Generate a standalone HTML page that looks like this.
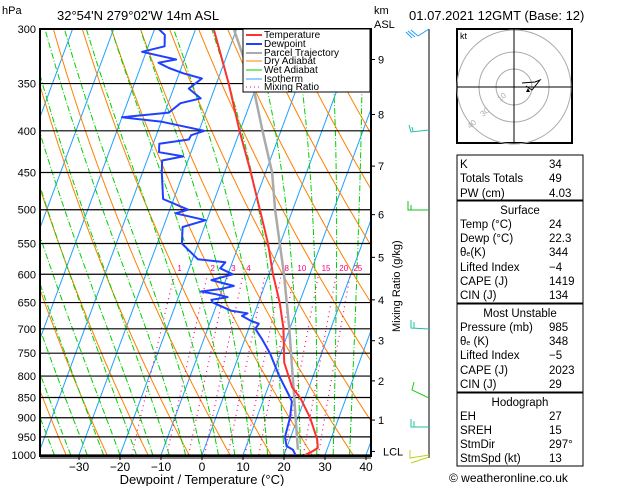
<!DOCTYPE html>
<html><head><meta charset="utf-8"><style>
html,body{margin:0;padding:0;background:#fff;width:629px;height:486px;overflow:hidden}
svg{display:block;font-family:"Liberation Sans",sans-serif}
</style></head><body>
<svg id="c" width="629" height="486" xmlns="http://www.w3.org/2000/svg">
<defs><clipPath id="pc"><rect x="40" y="29" width="331" height="427"/></clipPath></defs>
<g id="bg" clip-path="url(#pc)"></g>
<g id="data" clip-path="url(#pc)"></g>
<g id="axes"></g>
</svg>
<script>
// ---- data ----
const tempP=[1000,990,980,957,900,852,826,770,700,650,600,550,500,450,400,350,300];
const tempT=[25.1,26.6,27.6,26.7,23.0,18.9,15.9,11.7,8.5,5.2,1.0,-3.0,-8.0,-13.6,-20.1,-27,-35.6];
const dewP=[1000,985,975,950,900,860,850,800,750,720,700,690,685,675,670,665,650,645,640,635,630,625,620,610,600,590,580,575,550,525,515,505,500,485,450,435,430,425,415,410,405,400,390,385,380,370,365,355,345,340,335,330,327,320,315,305,300];
const dewT=[22.8,21.7,19.8,18.6,18.1,17.1,16.3,11.7,7.4,4.1,1.6,2,0,-2.8,-1.7,-6,-11.1,-11.7,-8,-11,-15,-10,-7.5,-13.5,-8.8,-12.4,-11.7,-18.7,-24,-25.3,-20.3,-28.3,-25.5,-32.6,-35.3,-36.3,-31.5,-37.8,-38.5,-31.7,-31.5,-28.7,-39.8,-50,-39,-37,-32.5,-36.3,-34,-39,-43,-46,-42,-51,-46,-47,-49];
const parcelP=[985,850,700,600,500,450,400,350,300];
const parcelT=[22.9,17.3,9.9,3.7,-4.3,-8.4,-14.5,-21.2,-30.7];
const pLevels=[300,350,400,450,500,550,600,650,700,750,800,850,900,950,1000];
const tTicks=[-30,-20,-10,0,10,20,30,40];
const kmLabels=["9","8","7","6","5","4","3","2","1","LCL"];
const kmP=[327,382,442,507,572,645,724,811,906,990];
const mixW=[1,2,3,4,6,8,10,15,20,25];
const mixLabels=["1","2","3","4","","8","10","15","20","25"];
// ---- axis functions ----
const X0=202,DX=4.1,SK=0.37,YB=455,YT=29;
function yP(p){return YT+(YB-YT)*Math.log(p/300)/Math.log(1000/300);}
function xT(t,p){return X0+t*DX+SK*(YB-yP(p));}
const NS="http://www.w3.org/2000/svg";
function mk(tag,attrs,parent){const e=document.createElementNS(NS,tag);for(const k in attrs)e.setAttribute(k,attrs[k]);parent.appendChild(e);return e;}
const bg=document.getElementById('bg'),dg=document.getElementById('data'),ax=document.getElementById('axes'),svg=document.getElementById('c');
function pl(pts){return pts.map(q=>q[0].toFixed(1)+','+q[1].toFixed(1)).join(' ');}
// isotherms
for(let t=-120;t<=40;t+=10){
 const e=mk('line',{x1:xT(t,1000),y1:yP(1000),x2:xT(t,300),y2:yP(300),stroke:'#1ea0ff','stroke-width':1},bg);
 
 
}
// dry adiabats
for(let th=230;th<=470;th+=10){
 const pts=[];for(let p=1000;p>=300;p-=10){pts.push([xT(th*Math.pow(p/1000,0.286)-273.15,p),yP(p)]);}
 const e=mk('polyline',{points:pl(pts),fill:'none',stroke:'#ff8000','stroke-width':1},bg);
 
 
}
// wet adiabats
function es(t){return 6.112*Math.exp(17.67*t/(t+243.5));}
function moistLapse(t,p){const T=t+273.15,e=es(t),r=0.622*e/(p-e),L=2.5e6,Rd=287,cp=1005;
 const num=(Rd*T+L*r)/(cp+L*L*r*0.622/(Rd*T*T));return num/p;}
for(let t0=-40;t0<=36;t0+=4){
 const pts=[];let t=t0;for(let p=1000;p>=300;p-=5){pts.push([xT(t,p),yP(p)]);t-=moistLapse(t,p)*5;}
 const e=mk('polyline',{points:pl(pts),fill:'none',stroke:'#00d000','stroke-width':1,'stroke-dasharray':'6,2,1,2'},bg);
 
 
}
// mixing ratio
function tdW(w,p){const e=w*p/(622+w),l=Math.log(e/6.112);return 243.5*l/(17.67-l);}
mixW.forEach((w,i)=>{
 const pts=[];for(let p=1000;p>=600;p-=10)pts.push([xT(tdW(w,p),p),yP(p)]);
 const e=mk('polyline',{points:pl(pts),fill:'none',stroke:'#ff0080','stroke-width':1.2,'stroke-dasharray':'1,4'},bg);
 
 
 const t=mk('text',{x:xT(tdW(w,600),600)+3,y:271,'font-size':8,fill:'#ff0080'},ax);t.textContent=mixLabels[i];
 
 
});
// isobars
pLevels.forEach(p=>{
 const e=mk('line',{x1:40,x2:371,y1:yP(p),y2:yP(p),stroke:'#000','stroke-width':1.2},bg);
 
 
 const t=mk('text',{x:36,y:yP(p)+4,'font-size':11,'text-anchor':'end',fill:'#000'},ax);t.textContent=p;
 
 
});
// profiles
function prof(P,T,col,w,name){const pts=P.map((p,i)=>[xT(T[i],p),yP(p)]);
 const e=mk('polyline',{points:pl(pts),fill:'none',stroke:col,'stroke-width':w,'stroke-linejoin':'round'},dg);
 
 }
prof(parcelP,parcelT,'#aaaaaa',2.5,'parcel-trajectory');
prof(dewP,dewT,'#2040ff',2,'dewpoint-line');
prof(tempP,tempT,'#ff3030',2,'temperature-line');
// frame
const fr=mk('rect',{x:40,y:29,width:331,height:427,fill:'none',stroke:'#000','stroke-width':2},ax);


mk('line',{x1:40,x2:371,y1:458,y2:458,stroke:'#000','stroke-width':1},ax);
tTicks.forEach(t=>{const x=X0+t*DX;
 mk('line',{x1:x,x2:x,y1:456,y2:460,stroke:'#000'},ax);
 const e=mk('text',{x:x,y:471,'font-size':12,'text-anchor':'middle'},ax);e.textContent=(t<0?'\u2212':'')+Math.abs(t);
 
 });
kmP.forEach((p,i)=>{const y=yP(p);
 mk('line',{x1:371,x2:375,y1:y,y2:y,stroke:'#000'},ax);
 const e=mk('text',{x:i==9?383:378,y:y+4,'font-size':11},ax);e.textContent=kmLabels[i];
 
 });
</script>
<svg style="position:absolute;left:0;top:0" width="629" height="486" xmlns="http://www.w3.org/2000/svg" font-family="Liberation Sans, sans-serif">
<text x="2" y="14" font-size="11">hPa</text>
<text x="57" y="20" font-size="13">32°54'N  279°02'W  14m  ASL</text>
<text x="374" y="14" font-size="11">km</text>
<text x="374" y="28" font-size="11">ASL</text>
<text x="409" y="20" font-size="13">01.07.2021  12GMT  (Base: 12)</text>
<text x="202" y="484" font-size="13" text-anchor="middle">Dewpoint / Temperature (°C)</text>
<text transform="translate(400,332) rotate(-90)" font-size="11">Mixing Ratio (g/kg)</text>
<g font-size="10">
<rect x="243" y="29" width="127" height="63" fill="#fff" stroke="#000"/>
<line x1="246" x2="262" y1="35" y2="35" stroke="#ff3030" stroke-width="2"/><text x="264" y="38">Temperature</text>
<line x1="246" x2="262" y1="44" y2="44" stroke="#2040ff" stroke-width="2"/><text x="264" y="47">Dewpoint</text>
<line x1="246" x2="262" y1="53" y2="53" stroke="#aaa" stroke-width="2"/><text x="264" y="56">Parcel Trajectory</text>
<line x1="246" x2="262" y1="61" y2="61" stroke="#ff8000"/><text x="264" y="64">Dry Adiabat</text>
<line x1="246" x2="262" y1="70" y2="70" stroke="#00d000"/><text x="264" y="73">Wet Adiabat</text>
<line x1="246" x2="262" y1="79" y2="79" stroke="#1ea0ff"/><text x="264" y="82">Isotherm</text>
<line x1="246" x2="262" y1="87" y2="87" stroke="#ff0080" stroke-dasharray="1,3"/><text x="264" y="90">Mixing Ratio</text>
</g>
<g fill="none" stroke-width="1">
<line x1="429" y1="29" x2="429" y2="458" stroke="#000"/>
<path d="M429,29 L418,36 M418,36 L411,30 M415,37 L408,31 M412,38 L406,32" stroke="#1ea0ff"/>
<path d="M429,130 L411,132 L409,125 M413,131 L412,127" stroke="#20c0a0"/>
<path d="M429,210 L408,210 L408,201 M411,210 L411,205" stroke="#10c020"/>
<path d="M429,329 L411,328 L411,320 M414,328 L414,322" stroke="#20c0a0"/>
<path d="M429,398 L412,390 L414,382" stroke="#20d020"/>
<path d="M429,427 L411,427 L411,419 M414,427 L414,421" stroke="#20c0a0"/>
<path d="M429,455 L410,458 L410,450 M429,457 L411,463" stroke="#c0d020"/>
</g>
<g>
<rect x="457" y="29" width="115" height="114" fill="#fff" stroke="#000" stroke-width="2"/>
<circle cx="514" cy="87" r="18" fill="none" stroke="#aaa"/>
<circle cx="514" cy="87" r="35" fill="none" stroke="#aaa"/>
<circle cx="514" cy="87" r="57" fill="none" stroke="#aaa"/>
<line x1="457" x2="572" y1="87" y2="87" stroke="#000"/><line x1="514" x2="514" y1="29" y2="143" stroke="#000"/>
<text x="460" y="39" font-size="9">kt</text>
<text x="500" y="102" font-size="8" fill="#aaa" transform="rotate(-40 500 102)">10</text>
<text x="483" y="117" font-size="8" fill="#aaa" transform="rotate(-40 483 117)">30</text>
<text x="470" y="129" font-size="8" fill="#aaa" transform="rotate(-40 470 129)">40</text>
<path d="M522,83 L535,82 L540,80 L532,90 L526,86" fill="none" stroke="#000"/>
<polygon points="526,92 530,92 528,88" fill="#000"/>
</g>
<g font-size="11.5" fill="#000">
<rect x="457" y="155" width="126" height="45" fill="none" stroke="#000"/>
<rect x="457" y="201" width="126" height="102" fill="none" stroke="#000"/>
<rect x="457" y="304" width="126" height="88" fill="none" stroke="#000"/>
<rect x="457" y="393" width="126" height="73" fill="none" stroke="#000"/>
<text x="460" y="168">K</text><text x="549" y="168">34</text>
<text x="460" y="182">Totals Totals</text><text x="549" y="182">49</text>
<text x="460" y="197">PW (cm)</text><text x="549" y="197">4.03</text>
<text x="520" y="214" text-anchor="middle">Surface</text>
<text x="460" y="228">Temp (°C)</text><text x="549" y="228">24</text>
<text x="460" y="242">Dewp (°C)</text><text x="549" y="242">22.3</text>
<text x="460" y="256">θ<tspan font-size="7">e</tspan>(K)</text><text x="549" y="256">344</text>
<text x="460" y="271">Lifted Index</text><text x="549" y="271">−4</text>
<text x="460" y="285">CAPE (J)</text><text x="549" y="285">1419</text>
<text x="460" y="299">CIN (J)</text><text x="549" y="299">134</text>
<text x="520" y="317" text-anchor="middle">Most Unstable</text>
<text x="460" y="331">Pressure (mb)</text><text x="549" y="331">985</text>
<text x="460" y="345">θ<tspan font-size="7">e</tspan> (K)</text><text x="549" y="345">348</text>
<text x="460" y="359">Lifted Index</text><text x="549" y="359">−5</text>
<text x="460" y="374">CAPE (J)</text><text x="549" y="374">2023</text>
<text x="460" y="388">CIN (J)</text><text x="549" y="388">29</text>
<text x="520" y="406" text-anchor="middle">Hodograph</text>
<text x="460" y="420">EH</text><text x="549" y="420">27</text>
<text x="460" y="434">SREH</text><text x="549" y="434">15</text>
<text x="460" y="448">StmDir</text><text x="549" y="448">297°</text>
<text x="460" y="462">StmSpd (kt)</text><text x="549" y="462">13</text>
</g>
<text x="449" y="482" font-size="12">© weatheronline.co.uk</text>
</svg>
</body></html>
